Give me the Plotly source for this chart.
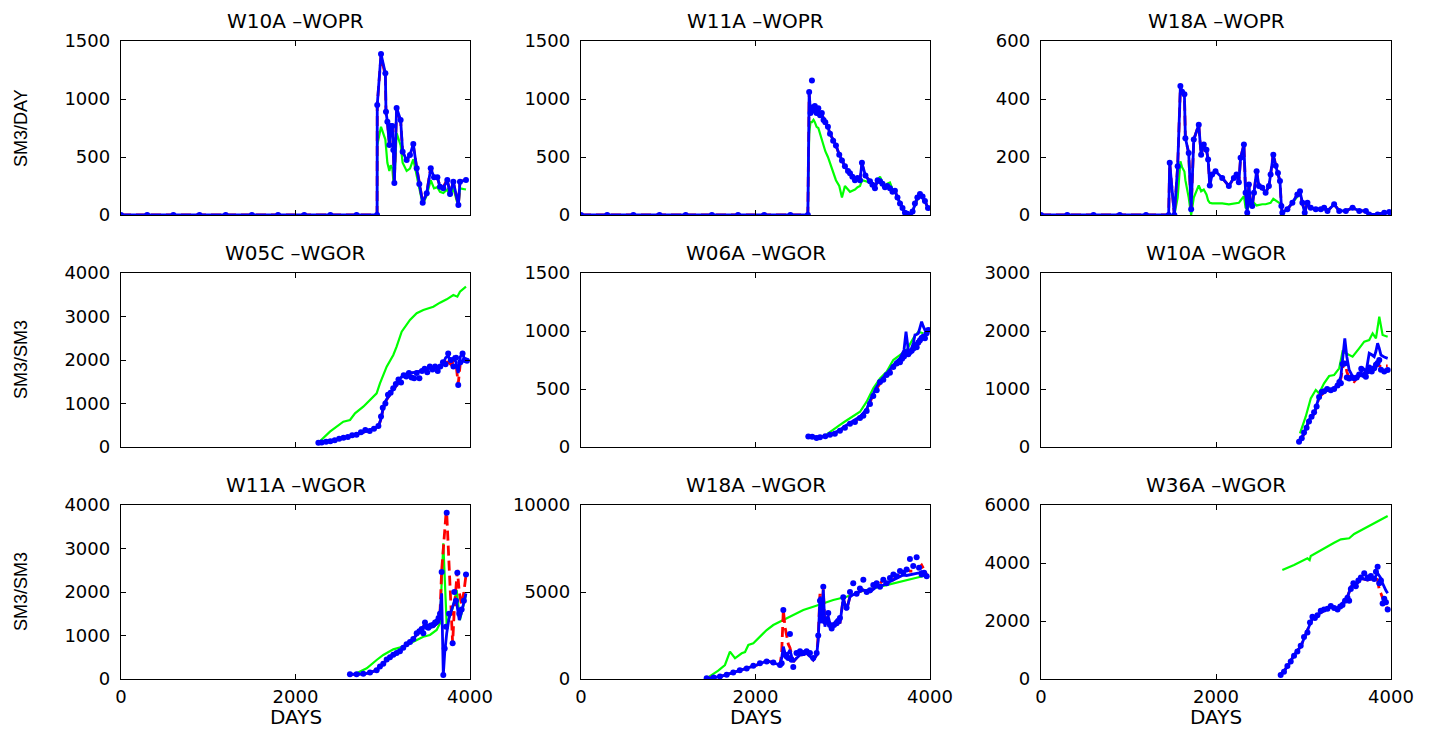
import plotly.graph_objects as go

# ---------------- data ----------------
titles = ["W10A \u2013WOPR", "W11A \u2013WOPR", "W18A \u2013WOPR",
          "W05C \u2013WGOR", "W06A \u2013WGOR", "W10A \u2013WGOR",
          "W11A \u2013WGOR", "W18A \u2013WGOR", "W36A \u2013WGOR"]
row_units = ["SM3/DAY", "SM3/SM3", "SM3/SM3"]
y_ranges = [[0, 1500], [0, 1500], [0, 600], [0, 4000], [0, 1500], [0, 3000],
            [0, 4000], [0, 10000], [0, 6000]]
y_dticks = [500, 500, 200, 1000, 500, 1000, 1000, 5000, 2000]
x_range = [0, 4000]
x_tickvals = [0, 2000, 4000]

t1 = [0, 300, 600, 900, 1200, 1500, 1800, 2100, 2400, 2700, 2935, 2937, 2980, 3030, 3037, 3053, 3076, 3091,
      3110, 3121, 3133, 3159, 3205, 3228, 3274, 3312, 3350, 3389, 3419, 3458, 3504, 3550, 3588, 3626, 3656,
      3694, 3740, 3771, 3809, 3867, 3885, 3954]
obs1 = [0, 0, 0, 0, 0, 0, 0, 0, 0, 0, 0, 948, 1388, 1221, 890, 804, 603, 767, 767, 560, 276, 922, 819, 546,
        474, 517, 612, 402, 267, 106, 187, 402, 325, 325, 244, 230, 302, 181, 287, 86, 287, 302]
blue1 = obs1
red1 = [0, 0, 0, 0, 0, 0, 0, 0, 0, 0, 0, 948, 1370, 1200, 880, 800, 620, 790, 760, 560, 290, 910, 810, 540,
        470, 520, 600, 410, 270, 110, 190, 410, 330, 320, 250, 240, 310, 190, 280, 90, 290, 300]
tg1 = t1
green1 = [0, 0, 0, 0, 0, 0, 0, 0, 0, 0, 0, 600, 760, 650, 560, 450, 380, 430, 400, 300, 276, 707, 600, 450,
          380, 400, 480, 330, 230, 90, 170, 300, 230, 240, 200, 190, 220, 160, 230, 70, 230, 220]

t2 = [0, 300, 600, 900, 1200, 1500, 1800, 2100, 2400, 2600,
      2615, 2630, 2647, 2665, 2680, 2700, 2720, 2740, 2760, 2780, 2800, 2830, 2854, 2890, 2922, 2960, 2991,
      3025, 3060, 3083, 3110, 3140, 3170, 3198, 3220, 3260, 3312, 3340, 3369, 3400, 3427, 3455, 3484, 3510,
      3541, 3570, 3598, 3627, 3656, 3685, 3713, 3740, 3770, 3800, 3827, 3855, 3885, 3915, 3942, 3977]
blue2 = [0, 0, 0, 0, 0, 0, 0, 0, 0, 0,
         1060, 880, 950, 900, 940, 880, 920, 860, 880, 820, 800, 760, 700, 640, 600, 520, 470, 420, 380, 360,
         330, 300, 320, 300, 450, 340, 290, 260, 230, 300, 290, 270, 240, 250, 230, 200, 210, 150, 100, 60,
         20, 10, 0, 30, 100, 150, 180, 160, 120, 60]
obs2 = [0, 0, 0, 0, 0, 0, 0, 0, 0, 0,
        1060, 880, 1160, 900, 940, 880, 920, 860, 880, 820, 800, 760, 700, 640, 600, 520, 470, 420, 380, 360,
        330, 300, 320, 300, 450, 340, 290, 260, 230, 300, 290, 270, 240, 250, 230, 200, 210, 150, 100, 60,
        20, 10, 0, 30, 100, 150, 180, 160, 120, 60]
red2 = [0, 0, 0, 0, 0, 0, 0, 0, 0, 0,
        1040, 890, 960, 890, 930, 890, 910, 860, 870, 830, 800, 750, 700, 650, 600, 520, 470, 420, 380, 360,
        330, 300, 320, 300, 440, 340, 290, 260, 240, 300, 290, 270, 240, 250, 230, 200, 210, 150, 100, 60,
        20, 10, 0, 30, 100, 150, 180, 160, 120, 60]
tg2 = t2
green2 = [0, 0, 0, 0, 0, 0, 0, 0, 0, 0,
          700, 800, 800, 820, 800, 760, 750, 700, 650, 600, 550, 500, 450, 380, 300, 250, 150, 250, 220, 200,
          210, 220, 240, 250, 300, 290, 280, 260, 250, 300, 330, 280, 250, 270, 280, 220, 200, 150, 100, 60,
          20, 5, 0, 40, 80, 130, 180, 150, 120, 60]

t3 = [0, 300, 600, 900, 1200, 1459,
      1471, 1524, 1562, 1593, 1612, 1639, 1650, 1688, 1716, 1746, 1803, 1830, 1860, 1891, 1910, 1929, 1956,
      1994, 2071, 2147, 2204, 2235, 2261, 2281, 2319, 2338, 2357, 2376, 2395, 2414, 2434, 2464, 2491, 2529,
      2567, 2605, 2624, 2655, 2682, 2708, 2731, 2747, 2758, 2816, 2873, 2930, 2960, 2987, 3014, 3045, 3083,
      3140, 3198, 3236, 3274, 3350, 3408, 3484, 3561, 3637, 3713, 3751, 3847, 3923, 3980]
blue3 = [0, 0, 0, 0, 0, 0,
         180, 0, 168, 445, 425, 416, 265, 214, 20, 260, 311, 208, 243, 225, 191, 102, 140, 151, 128, 100, 128,
         140, 113, 197, 243, 77, 8, 105, 42, 31, 77, 151, 100, 94, 77, 100, 140, 208, 170, 145, 117, 31, 8, 20,
         42, 71, 82, 42, 8, 42, 25, 20, 20, 25, 14, 37, 14, 14, 25, 14, 14, 2, 2, 8, 10]
obs3 = blue3
red3 = [0, 0, 0, 0, 0, 0,
        180, 0, 168, 440, 420, 416, 265, 214, 20, 260, 311, 208, 243, 225, 191, 102, 140, 151, 128, 100, 128,
        140, 113, 197, 243, 77, 30, 105, 42, 31, 77, 151, 100, 94, 77, 100, 140, 215, 170, 145, 117, 31, 8, 20,
        42, 71, 82, 42, 8, 42, 25, 20, 20, 25, 14, 37, 14, 14, 25, 14, 14, 2, 2, 8, 10]
tg3 = t3
green3 = [0, 0, 0, 0, 0, 0,
          0, 0, 60, 185, 165, 150, 120, 60, 0, 60, 102, 82, 88, 71, 50, 42, 40, 40, 40, 37, 40, 40, 42, 50, 65,
          25, 20, 30, 42, 35, 42, 33, 35, 37, 37, 40, 42, 56, 50, 42, 40, 20, 8, 20, 42, 60, 75, 42, 8, 42, 25,
          20, 20, 25, 14, 37, 14, 14, 25, 14, 14, 2, 2, 8, 10]

t4 = [2262, 2300, 2350, 2400, 2450, 2500, 2550, 2600, 2650, 2700, 2750, 2800, 2850, 2900, 2950, 2980, 3000,
      3030, 3060, 3090, 3120, 3150, 3180, 3210, 3240, 3270, 3300, 3330, 3360, 3390, 3420, 3450, 3480, 3510,
      3540, 3570, 3600, 3630, 3660, 3690, 3720, 3750, 3780, 3810, 3840, 3865, 3890, 3915, 3940, 3965]
blue4 = [99, 110, 125, 140, 160, 180, 200, 225, 255, 290, 320, 350, 390, 430, 470, 650, 850,
         1050, 1150, 1230, 1330, 1400, 1500, 1600, 1630, 1680, 1690, 1700, 1710, 1720, 1740, 1760, 1780, 1800,
         1810, 1820, 1830, 1850, 1850, 1900, 2050, 2100, 1950, 2050, 1950, 1700, 2080, 2150, 2000, 1970]
red4 = [99, 110, 125, 140, 160, 180, 200, 225, 255, 290, 320, 350, 390, 430, 470, 640, 840,
        1040, 1140, 1220, 1320, 1390, 1490, 1590, 1620, 1670, 1690, 1700, 1710, 1720, 1740, 1760, 1780, 1800,
        1810, 1820, 1830, 1840, 1850, 1880, 1950, 1950, 1900, 1950, 1900, 1450, 1950, 2000, 1980, 2000]
obs4 = [99, 105, 120, 135, 155, 190, 210, 230, 270, 280, 340, 390, 370, 420, 480, 700, 900,
        1000, 1200, 1250, 1350, 1450, 1550, 1480, 1650, 1620, 1700, 1600, 1580, 1700, 1580, 1750, 1800, 1720,
        1850, 1780, 1850, 1750, 1850, 1950, 1900, 2150, 2000, 1850, 2050, 1425, 1950, 2150, 2000, 1980]
tg4 = [2262, 2395, 2548, 2625, 2682, 2777, 2930, 2968, 3045, 3121, 3159, 3217, 3312, 3389, 3465, 3580, 3656,
       3733, 3809, 3855, 3885, 3954]
green4 = [99, 352, 582, 620, 774, 927, 1234, 1464, 1847, 2115, 2306, 2651, 2920, 3074, 3150, 3226, 3318, 3395,
          3494, 3456, 3571, 3685]

t5 = [2605, 2650, 2700, 2739, 2800, 2854, 2910, 2968, 3025, 3083, 3140, 3198, 3236, 3274, 3312, 3350, 3389,
      3427, 3465, 3503, 3541, 3579, 3618, 3656, 3680, 3702, 3725, 3751, 3770, 3790, 3810, 3828, 3847, 3866,
      3885, 3904, 3923, 3942, 3961, 3980]
blue5 = [89, 85, 80, 83, 95, 103, 125, 147, 180, 210, 235, 261, 290, 325, 400, 463, 520, 563, 600, 635, 670,
         707, 740, 765, 800, 836, 994, 836, 820, 851, 900, 966, 970, 980, 1030, 1080, 1040, 1009, 1010, 1009]
red5 = [89, 85, 80, 83, 93, 100, 120, 140, 170, 200, 225, 250, 280, 320, 390, 450, 505, 550, 590, 625, 655,
        690, 720, 745, 770, 790, 800, 810, 820, 840, 860, 870, 865, 880, 900, 930, 950, 980, 1000, 1000]
obs5 = [90, 88, 78, 85, 92, 105, 115, 140, 165, 200, 215, 250, 270, 310, 370, 440, 490, 560, 580, 620, 640,
        690, 720, 730, 760, 780, 820, 800, 820, 830, 850, 880, 860, 900, 920, 940, 950, 937, 980, 1009]
tg5 = [2816, 2900, 2968, 3025, 3083, 3140, 3198, 3274, 3350, 3427, 3503, 3579, 3656, 3732, 3808, 3866, 3923]
green5 = [109, 150, 190, 220, 247, 270, 304, 391, 506, 592, 649, 750, 793, 836, 937, 994, 980]

t6 = [2949, 2980, 3006, 3035, 3063, 3092, 3121, 3150, 3178, 3207, 3235, 3270, 3312, 3350, 3389, 3410, 3427,
      3446, 3472, 3495, 3522, 3550, 3579, 3608, 3636, 3660, 3687, 3713, 3730, 3751, 3780, 3808, 3828, 3847,
      3866, 3885, 3923, 3962]
blue6 = [92, 160, 236, 350, 466, 520, 581, 720, 867, 920, 953, 970, 983, 1020, 1069, 1150, 1212, 1500, 1874,
         1557, 1327, 1250, 1184, 1210, 1241, 1300, 1357, 1270, 1450, 1615, 1590, 1557, 1650, 1788, 1700, 1586,
         1550, 1529]
red6 = [92, 150, 220, 340, 450, 510, 570, 700, 850, 900, 940, 960, 980, 1010, 1060, 1130, 1180, 1350, 1480,
        1300, 1180, 1150, 1126, 1180, 1230, 1260, 1300, 1250, 1280, 1330, 1340, 1320, 1380, 1414, 1400, 1380,
        1400, 1400]
obs6 = [92, 150, 250, 330, 440, 520, 600, 700, 860, 950, 960, 1000, 980, 1000, 1060, 1120, 1100, 1430, 1440,
        1200, 1180, 1200, 1184, 1200, 1250, 1350, 1240, 1212, 1300, 1370, 1300, 1357, 1420, 1450, 1500, 1330,
        1300, 1327]
tg6 = [2960, 3025, 3083, 3140, 3178, 3235, 3293, 3350, 3408, 3446, 3484, 3561, 3636, 3694, 3751, 3790, 3828,
       3866, 3904, 3962]
green6 = [236, 523, 839, 983, 925, 1098, 1224, 1241, 1357, 1643, 1615, 1557, 1701, 1816, 1845, 1960, 1874,
          2246, 1931, 1902]

t7 = [2624, 2700, 2777, 2854, 2930, 2968, 3006, 3045, 3083, 3121, 3159, 3197, 3235, 3273, 3312, 3350, 3389,
      3420, 3446, 3465, 3484, 3503, 3522, 3550, 3579, 3600, 3625, 3640, 3656, 3675, 3694, 3710, 3725, 3733,
      3760, 3801, 3820, 3839, 3855, 3877, 3904, 3930, 3954]
blue7 = [108, 110, 115, 145, 207, 280, 361, 440, 513, 550, 590, 650, 729, 790, 858, 930, 1012, 1080, 1127,
         1200, 1281, 1230, 1202, 1190, 1202, 1240, 1281, 1350, 1510, 1970, 92, 600, 1050, 1050, 1400, 1701,
         1780, 1855, 1600, 1356, 1547, 1750, 1970]
red7 = [108, 110, 115, 145, 207, 280, 361, 440, 513, 550, 590, 650, 729, 790, 858, 930, 1012, 1080, 1127,
        1200, 1281, 1230, 1202, 1190, 1202, 1240, 1281, 1350, 1510, 2483, 3000, 3500, 3800, 3824, 2500, 820,
        1600, 2200, 2506, 2000, 1701, 2000, 2391]
obs7 = [108, 110, 120, 150, 200, 290, 350, 450, 500, 560, 600, 640, 720, 800, 850, 920, 1050, 1100, 1150,
        1050, 1300, 1200, 1180, 1230, 1250, 1300, 1330, 1400, 1500, 2460, 92, 700, 1200, 3824, 1500, 820,
        2000, 1800, 2440, 1500, 1600, 1800, 2400]
tg7 = [2700, 2816, 2930, 3006, 3121, 3235, 3350, 3465, 3541, 3618, 3656, 3694, 3733, 3801, 3847, 3885, 3954]
green7 = [130, 245, 437, 552, 682, 743, 858, 973, 1012, 1127, 1281, 3120, 1242, 1625, 2046, 1356, 1931]

t8 = [1440, 1520, 1593, 1670, 1745, 1820, 1899, 1975, 2051, 2128, 2204, 2281, 2300, 2319, 2338, 2357, 2376,
      2395, 2414, 2433, 2470, 2510, 2548, 2586, 2624, 2662, 2701, 2719, 2739, 2758, 2777, 2796, 2815, 2834,
      2853, 2873, 2900, 2930, 2968, 3006, 3044, 3083, 3120, 3159, 3197, 3236, 3274, 3312, 3350, 3388, 3427,
      3465, 3503, 3541, 3580, 3618, 3656, 3694, 3732, 3770, 3808, 3847, 3875, 3904, 3933, 3962]
blue8 = [40, 80, 132, 250, 362, 480, 615, 740, 862, 1052, 937, 805, 1200, 1856, 1500, 1282, 1500, 1667, 1300,
         994, 1200, 1379, 1400, 1477, 1300, 1092, 1379, 2241, 4730, 3201, 5115, 3006, 3500, 3580, 3200, 3006,
         3200, 3391, 3201, 4638, 3965, 4730, 4850, 4925, 5000, 5115, 5050, 5017, 5150, 5304, 5350, 5402, 5500,
         5592, 5700, 5787, 5850, 5977, 5950, 5977, 6020, 6074, 6100, 6166, 6050, 5977]
red8 = [40, 80, 132, 250, 362, 480, 615, 740, 862, 1052, 937, 805, 1500, 3965, 3000, 2431, 2000, 1800, 1300,
        994, 1200, 1379, 1400, 1477, 1300, 1092, 1379, 2500, 4900, 3300, 5200, 3100, 3500, 3580, 3200, 3006,
        3200, 3391, 3201, 4638, 3965, 4730, 4850, 4925, 5000, 5115, 5050, 5017, 5200, 5400, 5500, 5690, 5500,
        5592, 5700, 5900, 6000, 6100, 6300, 6200, 6200, 6300, 6400, 6550, 6300, 6000]
obs8 = [40, 90, 150, 240, 380, 500, 600, 760, 900, 1000, 950, 800, 900, 3965, 1400, 1300, 1200, 2580, 1100,
        690, 1500, 1600, 1500, 1600, 1500, 1200, 1500, 2500, 4500, 3500, 5300, 3300, 3300, 3800, 3100, 2900,
        3100, 3200, 3500, 4700, 4100, 5000, 5500, 4900, 5200, 5700, 5000, 5100, 5400, 5500, 5300, 5700, 5500,
        5800, 6000, 5900, 6200, 6100, 6300, 6900, 6500, 7000, 6400, 6000, 6100, 5900]
tg8 = [1440, 1498, 1573, 1650, 1707, 1765, 1842, 1880, 1918, 1975, 2051, 2128, 2204, 2281, 2357, 2433, 2548,
       2662, 2777, 2891, 3044, 3197, 3350, 3503, 3656, 3790, 3860, 3950]
green8 = [40, 230, 477, 805, 1569, 1190, 1477, 1550, 1954, 2052, 2431, 2816, 3103, 3293, 3488, 3678, 3965,
          4155, 4351, 4540, 4730, 5017, 5212, 5402, 5592, 5787, 5850, 5950]

t9 = [2739, 2777, 2816, 2854, 2892, 2930, 2968, 3006, 3045, 3074, 3102, 3130, 3159, 3197, 3235, 3274, 3312,
      3350, 3389, 3420, 3446, 3475, 3503, 3522, 3541, 3570, 3598, 3627, 3656, 3694, 3732, 3770, 3808, 3828,
      3847, 3866, 3885, 3904, 3923, 3942, 3962]
blue9 = [138, 280, 425, 620, 828, 980, 1115, 1400, 1690, 1900, 2092, 2150, 2207, 2290, 2379, 2440, 2494, 2470,
         2437, 2520, 2610, 2720, 2838, 3000, 3183, 3220, 3241, 3350, 3472, 3440, 3414, 3440, 3472, 3560, 3645,
         3560, 3472, 3300, 3150, 3050, 2955]
red9 = [138, 280, 425, 620, 828, 980, 1115, 1400, 1690, 1900, 2092, 2150, 2207, 2290, 2379, 2440, 2494, 2470,
        2437, 2520, 2610, 2720, 2838, 3000, 3183, 3220, 3241, 3350, 3472, 3440, 3414, 3440, 3472, 3472, 3414,
        3069, 2950, 2800, 2724, 2550, 2379]
obs9 = [140, 250, 450, 600, 800, 950, 1150, 1450, 1600, 1950, 2150, 2100, 2200, 2350, 2400, 2420, 2520, 2450,
        2400, 2500, 2550, 2700, 2800, 2700, 3100, 3300, 3200, 3400, 3500, 3650, 3500, 3550, 3450, 3700, 3875,
        3300, 3400, 2600, 2770, 2650, 2400]
tg9 = [2758, 2892, 3045, 3070, 3083, 3197, 3350, 3427, 3522, 3579, 3732, 3847, 3962]
green9 = [3758, 3931, 4161, 4100, 4241, 4448, 4701, 4817, 4851, 5000, 5252, 5424, 5620]

panels = [
    (t1, obs1, blue1, red1, tg1, green1),
    (t2, obs2, blue2, red2, tg2, green2),
    (t3, obs3, blue3, red3, tg3, green3),
    (t4, obs4, blue4, red4, tg4, green4),
    (t5, obs5, blue5, red5, tg5, green5),
    (t6, obs6, blue6, red6, tg6, green6),
    (t7, obs7, blue7, red7, tg7, green7),
    (t8, obs8, blue8, red8, tg8, green8),
    (t9, obs9, blue9, red9, tg9, green9),
]
for i, (t, o, b, r, tg, g) in enumerate(panels):
    assert len(t) == len(o) == len(b) == len(r), (i, len(t), len(o), len(b), len(r))
    assert len(tg) == len(g), (i, len(tg), len(g))

# ---------------- layout ----------------
W, H = 1439, 729
col_px = [(121, 470), (581, 930), (1041, 1391)]
row_px = [(41, 215), (273, 447), (505, 679)]

fig = go.Figure()
layout = dict(width=W, height=H, margin=dict(l=0, r=0, t=0, b=0, pad=0, autoexpand=False),
              autosize=False,
              paper_bgcolor="white", plot_bgcolor="white", showlegend=False,
              annotations=[])

tick_font = dict(family="DejaVu Sans", size=18, color="black")
title_font = dict(family="DejaVu Sans", size=20, color="black")

for i, (t, o, b, r, tg, g) in enumerate(panels):
    n = i + 1
    row, col = divmod(i, 3)
    xa = "x" if n == 1 else f"x{n}"
    ya = "y" if n == 1 else f"y{n}"
    fig.add_trace(go.Scatter(x=tg, y=g, mode="lines", line=dict(color="#00ff00", width=2.2),
                             xaxis=xa, yaxis=ya, hoverinfo="skip"))
    fig.add_trace(go.Scatter(x=t, y=r, mode="lines", line=dict(color="#ff0000", width=2.8, dash="10px,5px"),
                             xaxis=xa, yaxis=ya, hoverinfo="skip"))
    fig.add_trace(go.Scatter(x=t, y=b, mode="lines", line=dict(color="#0000ff", width=2.8),
                             xaxis=xa, yaxis=ya, hoverinfo="skip"))
    fig.add_trace(go.Scatter(x=t, y=o, mode="markers", marker=dict(color="#0000ff", size=6),
                             xaxis=xa, yaxis=ya, hoverinfo="skip"))

    x0, x1 = col_px[col]
    y0, y1 = row_px[row]
    xdom = [x0 / W, x1 / W]
    ydom = [1 - y1 / H, 1 - y0 / H]
    xkey = "xaxis" if n == 1 else f"xaxis{n}"
    ykey = "yaxis" if n == 1 else f"yaxis{n}"
    layout[xkey] = dict(domain=xdom, range=x_range, anchor=ya, tickvals=x_tickvals, automargin=False,
                        showticklabels=(row == 2), ticks="inside", ticklen=5, tickcolor="black",
                        showline=True, linecolor="black", linewidth=1.4, mirror="ticks",
                        showgrid=False, zeroline=False, tickfont=tick_font, ticklabelstandoff=1)
    layout[ykey] = dict(domain=ydom, range=y_ranges[i], anchor=xa, dtick=y_dticks[i], tick0=0,
                        tickformat="d", automargin=False,
                        ticks="inside", ticklen=5, tickcolor="black",
                        showline=True, linecolor="black", linewidth=1.4, mirror="ticks",
                        showgrid=False, zeroline=False, tickfont=tick_font, ticklabelstandoff=6)
    layout["annotations"].append(dict(
        text=titles[i], xref="paper", yref="paper", x=(x0 + x1) / 2 / W, y=1 - (y0 - 20) / H,
        xanchor="center", yanchor="middle", showarrow=False, font=title_font))
    if row == 2:
        layout["annotations"].append(dict(
            text="DAYS", xref="paper", yref="paper", x=(x0 + x1) / 2 / W, y=1 - 717 / H,
            xanchor="center", yanchor="middle", showarrow=False, font=title_font))
    if col == 0:
        layout["annotations"].append(dict(
            text=row_units[row], xref="paper", yref="paper", x=21 / W, y=1 - (y0 + y1) / 2 / H,
            xanchor="center", yanchor="middle", showarrow=False, textangle=-90,
            font=dict(family="Liberation Sans", size=18, color="black")))

fig.update_layout(**layout)
fig.write_html("out.html")
